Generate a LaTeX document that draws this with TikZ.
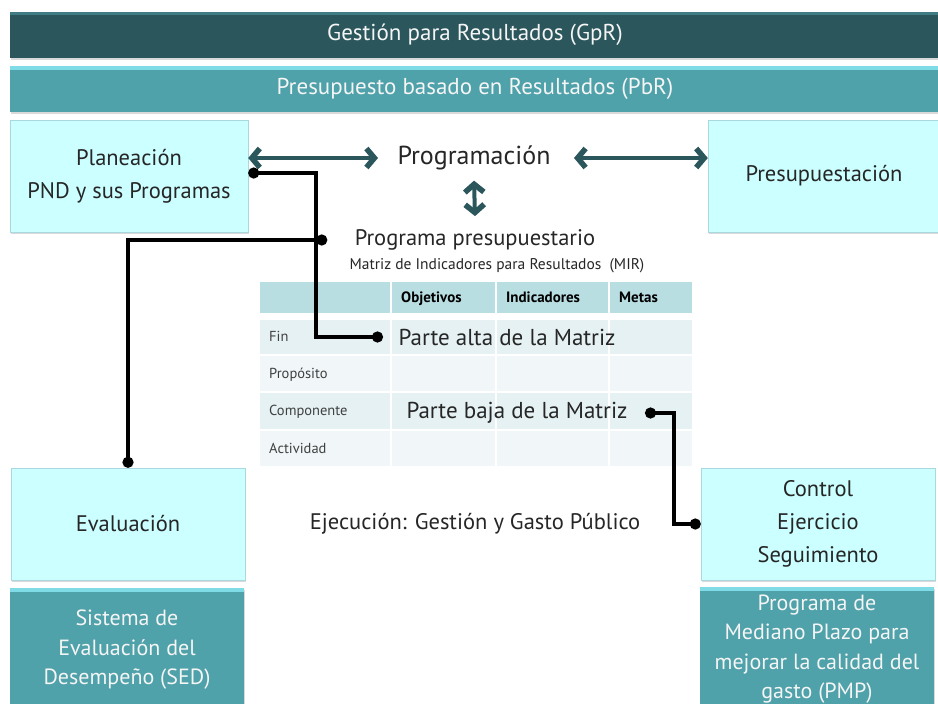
\documentclass[tikz,border=0pt]{standalone}
\usepackage{fontspec}
\setmainfont{PT Sans}
\usetikzlibrary{arrows.meta, positioning, shadows, calc}
\definecolor{gprdark}{HTML}{2A565C}
\definecolor{gprlight}{HTML}{3F7C83}
\definecolor{pbrteal}{HTML}{4FA1AA}
\definecolor{pbrlight}{HTML}{7FDCE6}
\definecolor{boxcyan}{HTML}{CCFFFF}
\definecolor{boxedge}{HTML}{A9D9DE}
\definecolor{mirhead}{HTML}{B8DEE2}
\definecolor{mirrowa}{HTML}{E5F1F3}
\definecolor{mirrowb}{HTML}{F1F7F9}
\definecolor{inkgray}{HTML}{262626}

\begin{document}
\begin{tikzpicture}[x=1pt, y=-1pt,
    every node/.style={font=\fontsize{21}{32}\selectfont, text=inkgray},
    band/.style={rectangle, minimum width=930pt, minimum height=46pt, inner sep=0pt, text=white!92!gray, font=\fontsize{23}{26}\selectfont, drop shadow={opacity=0.3, shadow xshift=1pt, shadow yshift=-2pt}},
    stage/.style={rectangle, draw=boxedge, fill=boxcyan, minimum width=234pt, minimum height=112pt, align=center, font=\fontsize{22.5}{33}\selectfont, drop shadow={opacity=0.3, shadow xshift=1pt, shadow yshift=-2pt}},
    system/.style={rectangle, fill=pbrteal, minimum width=234pt, minimum height=124pt, align=center, text=white!92!gray, font=\fontsize{22}{29.5}\selectfont,
        path picture={\fill[pbrlight] (path picture bounding box.north west) rectangle ([yshift=-4pt]path picture bounding box.north east);},
        drop shadow={opacity=0.3, shadow xshift=1pt, shadow yshift=-2pt}},
    cell/.style={rectangle, draw=white, line width=1.5pt, inner sep=0pt, anchor=north west},
    colhead/.style={anchor=base west, inner sep=0pt, font=\fontsize{15}{18}\selectfont\bfseries, text=black},
    rowlabel/.style={anchor=base west, inner sep=0pt, font=\fontsize{14.5}{17}\selectfont, text=black!75},
    flow/.style={{Straight Barb[length=8pt, width=19pt, line width=5.5pt]}-{Straight Barb[length=8pt, width=19pt, line width=5.5pt]}, line width=4pt, gprdark},
    link/.style={{Circle[length=11pt]}-{Circle[length=11pt]}, line width=3.5pt, black}
]
\useasboundingbox (0,0) rectangle (938,704);

% Bands
\node[band, fill=gprdark,
    path picture={\fill[gprlight] (path picture bounding box.north west) rectangle ([yshift=-3pt]path picture bounding box.north east);}]
    (gpr) at (475,35) {Gestión para Resultados (GpR)};
\node[band, fill=pbrteal,
    path picture={\fill[pbrlight] (path picture bounding box.north west) rectangle ([yshift=-4pt]path picture bounding box.north east);}]
    (pbr) at (475,89) {Presupuesto basado en Resultados (PbR)};

% Stages
\node[stage, minimum width=238pt] (plan) at (129,176) {Planeación\\PND y sus Programas};
\node[stage, minimum width=232pt] (presu) at (824,176) {Presupuestación};
\node[stage] (eval) at (128,524) {Evaluación};
\node[stage] (ctrl) at (818,524) {Control\\Ejercicio\\Seguimiento};

% Systems
\node[system] (sed) at (127,650) {Sistema de\\Evaluación del\\Desempeño (SED)};
\node[system] (pmp) at (817,649) {Programa de\\Mediano Plazo para\\mejorar la calidad del\\gasto (PMP)};

% Programming
\node[font=\fontsize{26}{30}\selectfont] (progr) at (474,158) {Programación};
\node[font=\fontsize{22.5}{26}\selectfont] (pp) at (475,240) {Programa presupuestario};
\node[font=\fontsize{15.5}{18}\selectfont] (mir) at (497,266) {Matriz de Indicadores para Resultados~~(MIR)};

% MIR table
\foreach \y/\h/\shade in {280/33/mirhead, 318/36/mirrowa, 354/37/mirrowb, 391/38/mirrowa, 429/37/mirrowb}
  \foreach \x/\w in {258/132, 390/105, 495/113, 608/84}
    \node[cell, fill=\shade, minimum width=\w pt, minimum height=\h pt] (c-\y-\x) at (\x,\y) {};
\foreach \x/\txt in {390/Objetivos, 495/Indicadores, 608/Metas}
  \node[colhead] (h\x) at (\x+11,302) {\txt};
\foreach \y/\lbl [count=\i] in {341/Fin, 378/Propósito, 415/Componente, 453/Actividad}
  \node[rowlabel] (row\i) at (269,\y) {\lbl};
\node[font=\fontsize{23}{27}\selectfont] (alta) at (507,337) {Parte alta de la Matriz};
\node[font=\fontsize{23}{27}\selectfont] (baja) at (517,413) {Parte baja de la Matriz};

% Execution
\node[font=\fontsize{22.5}{26}\selectfont] (ejec) at (475,524) {Ejecución: Gestión y Gasto Público};

% Arrows
\draw[flow] (plan.east |- progr.west) -- ([xshift=-16pt]progr.west);
\draw[flow] ([xshift=20pt]progr.east) -- (presu.west |- progr.east);
\draw[flow] ([yshift=-7pt]progr.south) -- ([yshift=10pt]pp.north);

% Links
\draw[link] ([yshift=3pt]plan.east) -- ++(68,0) |- ([xshift=-12pt]alta.west);
\draw[link] ([xshift=-24pt]pp.west) -| (eval.north);
\draw[link] ([xshift=14pt]baja.east) -- ++(29,0) |- (ctrl.west);

\end{tikzpicture}
\end{document}
